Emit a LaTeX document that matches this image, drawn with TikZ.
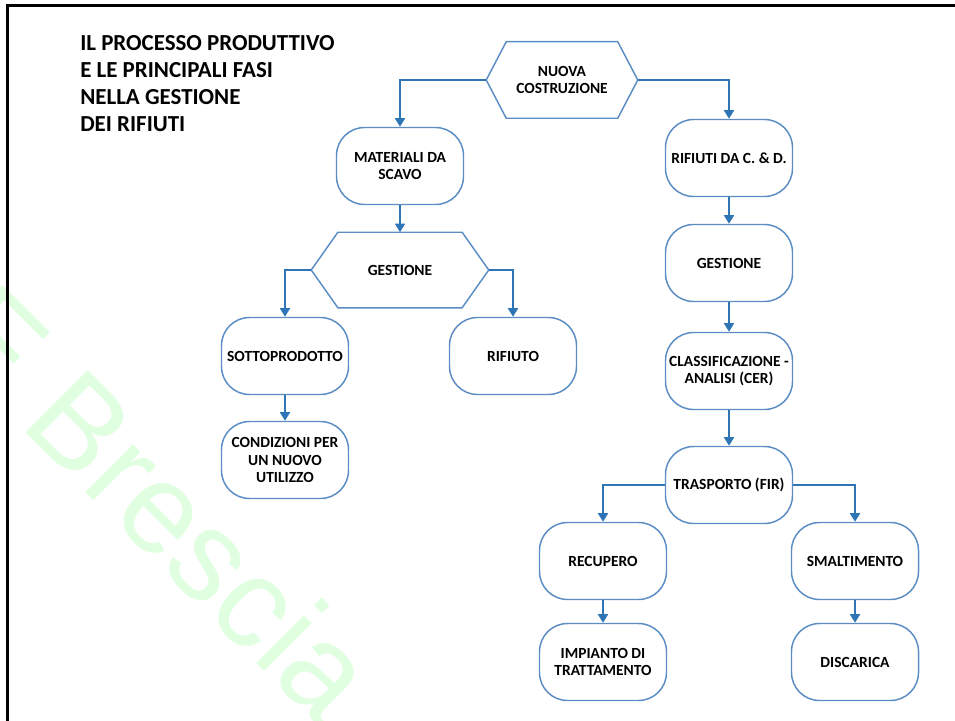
\documentclass[tikz,border=0pt]{standalone}
\usepackage{fontspec}
\setmainfont{Carlito}
\newfontfamily\markfont{Liberation Sans}
\usetikzlibrary{arrows.meta}
\definecolor{connblue}{RGB}{46,117,182}
\definecolor{edgeblue}{RGB}{91,141,196}
\definecolor{markgreen}{RGB}{224,255,224}

% outline of a stretched hexagon around a (borderless) label node
\newcommand\hexframe[2]{%
  \draw[hexline] (#1.west) -- ([xshift=#2]#1.north west) -- ([xshift=-#2]#1.north east)
    -- (#1.east) -- ([xshift=-#2]#1.south east) -- ([xshift=#2]#1.south west) -- cycle;}

\begin{document}
\begin{tikzpicture}[x=0.75pt,y=-0.75pt,
  boxtext/.style={font=\fontsize{11.6}{13}\selectfont\bfseries, align=center},
  box/.style={boxtext, draw=edgeblue, line width=1.1pt, fill=white,
    rounded corners=21pt, minimum width=95.25pt, minimum height=57.75pt, inner sep=0pt},
  hexlabel/.style={boxtext, inner sep=0pt},
  hexline/.style={draw=edgeblue, line width=1.1pt},
  conn/.style={draw=connblue, line width=1.6pt, -{Triangle[length=6.5pt,width=7.5pt]}},
]
\useasboundingbox (0,0) rectangle (955,720);

% watermark
\node[font=\markfont\fontsize{96}{96}\selectfont, text=markgreen, anchor=base west,
  rotate=-45, inner sep=0pt] (mark) at (-66.8,340.3) {E Brescia};

% page frame
\draw[line width=2pt] (7.5,730) -- (7.5,5.3) -- (965,5.3);

% title
\node[anchor=north west, inner sep=0pt, align=left,
  font=\fontsize{17.2}{20.25}\selectfont\bfseries] (title) at (80,35.5)
  {IL PROCESSO PRODUTTIVO\\E LE PRINCIPALI FASI\\NELLA GESTIONE\\DEI RIFIUTI};

% hexagons
\node[hexlabel, minimum width=113.25pt, minimum height=57pt] (nuova) at (562,80) {NUOVA\\COSTRUZIONE};
\hexframe{nuova}{15pt}
\node[hexlabel, minimum width=132.75pt, minimum height=56.25pt] (gestL) at (400,270) {GESTIONE};
\hexframe{gestL}{20pt}

% rounded boxes
\node[box] (mat) at (400,166) {MATERIALI DA\\SCAVO};
\node[box] (rif) at (729,158) {RIFIUTI DA C. \& D.};
\node[box] (sotto) at (285,356) {SOTTOPRODOTTO};
\node[box] (rifiuto) at (513,356) {RIFIUTO};
\node[box] (cond) at (285,460) {CONDIZIONI PER\\UN NUOVO\\UTILIZZO};
\node[box] (gestR) at (729,263) {GESTIONE};
\node[box] (class) at (729,371) {CLASSIFICAZIONE -\\ANALISI (CER)};
\node[box] (trasp) at (729,485) {TRASPORTO (FIR)};
\node[box] (recup) at (603,561) {RECUPERO};
\node[box] (smalt) at (855,561) {SMALTIMENTO};
\node[box] (impianto) at (603,662) {IMPIANTO DI\\TRATTAMENTO};
\node[box] (disc) at (855,662) {DISCARICA};

% connectors
\draw[conn] (nuova.west) -| (mat.north);
\draw[conn] (nuova.east) -| (rif.north);
\draw[conn] (mat.south) -- (gestL.north);
\draw[conn] (gestL.west) -| (sotto.north);
\draw[conn] (gestL.east) -| (rifiuto.north);
\draw[conn] (sotto.south) -- (cond.north);
\draw[conn] (rif.south) -- (gestR.north);
\draw[conn] (gestR.south) -- (class.north);
\draw[conn] (class.south) -- (trasp.north);
\draw[conn] (trasp.west) -| (recup.north);
\draw[conn] (trasp.east) -| (smalt.north);
\draw[conn] (recup.south) -- (impianto.north);
\draw[conn] (smalt.south) -- (disc.north);
\end{tikzpicture}
\end{document}
